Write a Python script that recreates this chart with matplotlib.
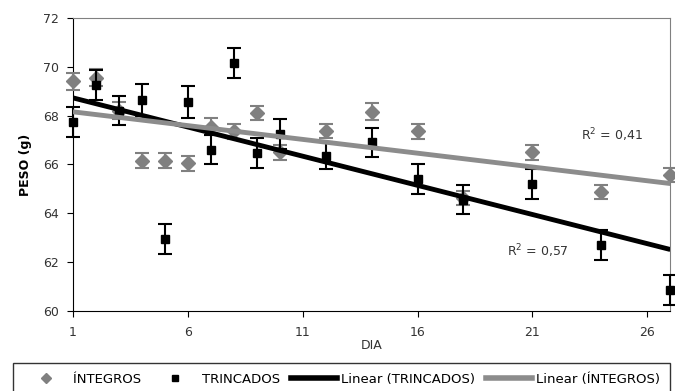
import numpy as np
import matplotlib
matplotlib.use("Agg")
import matplotlib.pyplot as plt
from matplotlib.lines import Line2D

days = [1, 2, 3, 4, 5, 6, 7, 8, 9, 10, 12, 14, 16, 18, 21, 24, 27]
integros = [69.4, 69.55, 68.2, 66.15, 66.15, 66.05, 67.55, 67.35, 68.1, 66.5, 67.37, 68.15, 67.35, 64.62, 66.5, 64.87, 65.57]
integros_err = [0.35, 0.35, 0.35, 0.3, 0.3, 0.3, 0.35, 0.3, 0.3, 0.3, 0.3, 0.35, 0.3, 0.3, 0.3, 0.3, 0.3]
trincados = [67.74, 69.25, 68.2, 68.64, 62.94, 68.55, 66.6, 70.15, 66.47, 67.25, 66.35, 66.9, 65.4, 64.55, 65.2, 62.7, 60.85]
trincados_err = [0.6, 0.6, 0.6, 0.65, 0.6, 0.65, 0.6, 0.6, 0.6, 0.6, 0.55, 0.6, 0.6, 0.6, 0.6, 0.6, 0.6]
r2_labels = ["R$^2$ = 0,41", "R$^2$ = 0,57"]
xticks = [1, 6, 11, 16, 21, 26]

plt.rcParams['font.family'] = ['DejaVu Sans']
fig = plt.figure(figsize=(6.75, 3.91), dpi=100)
ax = fig.add_axes([0.108, 0.205, 0.885, 0.749])

gray = '#808080'
eb1 = ax.errorbar(days, integros, yerr=integros_err, fmt='D', color=gray, ecolor=gray,
                  markersize=7, capsize=5, elinewidth=1.5, capthick=1.5, zorder=3)
eb2 = ax.errorbar(days, trincados, yerr=trincados_err, fmt='s', color='black', ecolor='black',
                  markersize=6, capsize=5, elinewidth=1.5, capthick=1.5, zorder=4)
for eb in (eb1, eb2):
    eb[0].set_clip_on(False)
    for c in eb[1]:
        c.set_clip_on(False)
    for c in eb[2]:
        c.set_clip_on(False)

x = np.array(days, dtype=float)
xl = np.array([1, 27], dtype=float)
pt = np.polyfit(x, trincados, 1)
pi = np.polyfit(x, integros, 1)
ax.plot(xl, np.polyval(pt, xl), color='black', lw=3.5, zorder=5, solid_capstyle='butt')
ax.plot(xl, np.polyval(pi, xl), color='#8c8c8c', lw=3.5, zorder=5, solid_capstyle='butt')

ax.text(23.1, 67.2, r2_labels[0], fontsize=9, color='#333333', va='center')
ax.text(19.9, 62.45, r2_labels[1], fontsize=9, color='#333333', va='center')

ax.set_xlim(1, 27)
ax.set_ylim(60, 72)
ax.set_xticks(xticks)
ax.set_yticks([60, 62, 64, 66, 68, 70, 72])
ax.tick_params(labelsize=9, length=4, direction='out', colors='black')
ax.tick_params(axis='x', pad=7)
ax.tick_params(axis='y', pad=6)
for lab in ax.get_xticklabels() + ax.get_yticklabels():
    lab.set_color('#333333')
ax.spines['top'].set_color(gray)
ax.spines['right'].set_color(gray)
ax.spines['left'].set_color('black')
ax.spines['bottom'].set_color('black')
ax.set_xlabel('DIA', fontsize=9, color='#333333', labelpad=0)
ax.set_ylabel('PESO (g)', fontsize=9, fontweight='bold', labelpad=8)

handles = [
    Line2D([], [], marker='D', color=gray, ls='none', markersize=5),
    Line2D([], [], marker='s', color='black', ls='none', markersize=5),
    Line2D([], [], color='black', lw=4),
    Line2D([], [], color='#8c8c8c', lw=4),
]
labels = ['ÍNTEGROS', 'TRINCADOS', 'Linear (TRINCADOS)', 'Linear (ÍNTEGROS)']
leg = fig.legend(handles, labels, loc='lower left', bbox_to_anchor=(0.019, -0.012, 0.974, 0.09),
                 mode='expand', ncol=4, fontsize=9.5, frameon=True, fancybox=False,
                 edgecolor='black', handlelength=3.5, columnspacing=0.5, handletextpad=0.3,
                 borderpad=0.75, borderaxespad=0)
leg.get_frame().set_linewidth(1.0)

fig.savefig('out.png', dpi=100)
